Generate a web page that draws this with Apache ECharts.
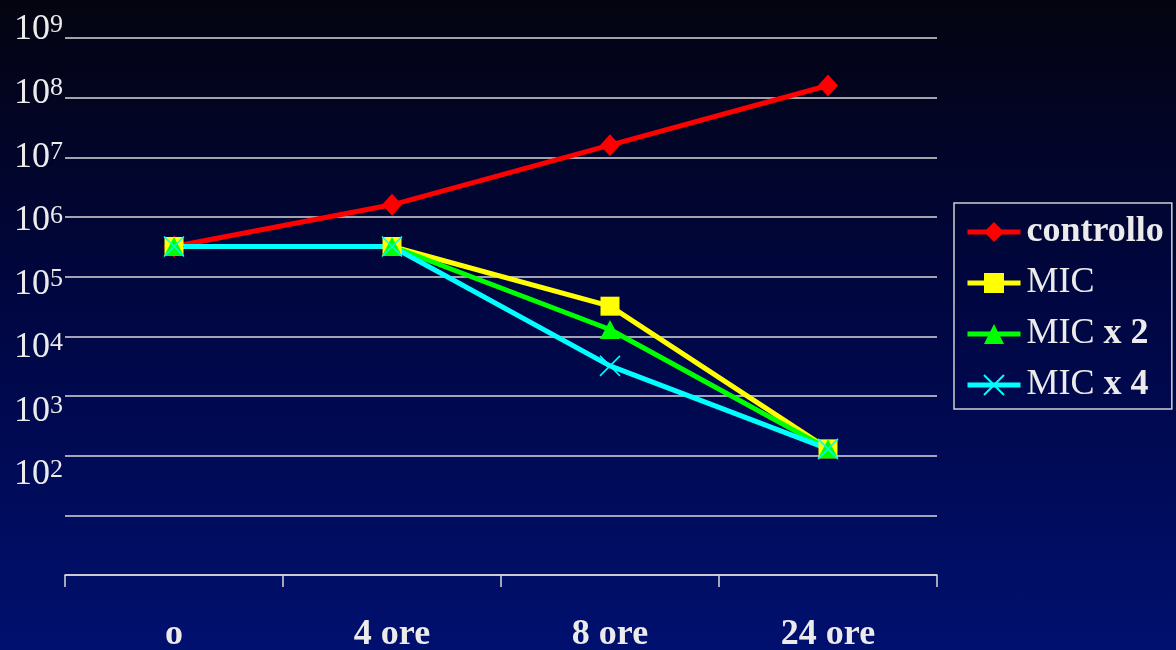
<!DOCTYPE html>
<html>
<head>
<meta charset="utf-8">
<script src="https://cdn.jsdelivr.net/npm/echarts@6/dist/echarts.min.js"></script>
<style>
html,body{margin:0;padding:0;}
#c{width:1176px;height:650px;background:linear-gradient(to bottom,#040410 0%,#000640 45%,#00106f 100%);}
</style>
</head>
<body>
<div id="c"></div>
<script>
const categories = ['o', '4 ore', '8 ore', '24 ore'];
const seriesNames = ['controllo', 'MIC', 'MIC x 2', 'MIC x 4'];
const controllo = [3.2e5, 1.6e6, 1.6e7, 1.6e8];
const mic = [3.2e5, 3.2e5, 3.2e4, 1.3e2];
const mic2 = [3.2e5, 3.2e5, 1.3e4, 1.3e2];
const mic4 = [3.2e5, 3.2e5, 3.2e3, 1.3e2];
const yLabelExpMin = 2;
const yLabelExpMax = 9;

const FONT = 'Liberation Serif';
const TXT = '#ebebeb';
const GRIDC = '#d8d8d8';

const chart = echarts.init(document.getElementById('c'), null, {renderer: 'canvas'});

function mk(name, data, color, symbol, size, extra) {
  return Object.assign({
    name: name,
    type: 'line',
    data: data,
    xAxisIndex: 0,
    yAxisIndex: 0,
    symbol: symbol,
    symbolSize: size,
    showAllSymbol: true,
    lineStyle: {color: color, width: 5},
    itemStyle: {color: color, borderWidth: 0},
    emphasis: {disabled: true},
    animation: false
  }, extra || {});
}

chart.setOption({
  backgroundColor: 'transparent',
  animation: false,
  grid: [
    {left: 65, right: 239, top: 38, bottom: 75, containLabel: false, outerBoundsMode: 'none'},
    {left: 65, right: 239, top: 30, bottom: 175, containLabel: false, outerBoundsMode: 'none'}
  ],
  legend: {
    orient: 'vertical',
    left: 954,
    top: 203,
    padding: [11, 8, 6, 11],
    itemGap: 15,
    itemWidth: 53,
    itemHeight: 25,
    lineStyle: {width: 5},
    borderColor: '#d0d0d0',
    borderWidth: 1.5,
    data: seriesNames,
    formatter: function (n) {
      if (n === 'controllo') return '{bd|controllo}';
      if (n === 'MIC') return '{rg|MIC}';
      const parts = n.split(' x ');
      return '{rg|' + parts[0] + '}{bd| x ' + parts[1] + '}';
    },
    textStyle: {
      color: TXT, fontFamily: FONT, fontSize: 36, padding: [0, 0, 0, 1],
      rich: {
        bd: {fontFamily: FONT, fontSize: 36, fontWeight: 'bold', color: TXT},
        rg: {fontFamily: FONT, fontSize: 36, fontWeight: 'normal', color: TXT}
      }
    }
  },
  xAxis: [
    {
      type: 'category',
      gridIndex: 0,
      data: categories,
      boundaryGap: true,
      axisLine: {show: true, lineStyle: {color: GRIDC, width: 1.5}},
      axisTick: {show: true, length: 12, lineStyle: {color: GRIDC, width: 1.5}},
      axisLabel: {color: TXT, fontFamily: FONT, fontSize: 36, fontWeight: 'bold', margin: 42},
      splitLine: {show: false}
    },
    {
      type: 'category',
      gridIndex: 1,
      data: categories,
      show: false
    }
  ],
  yAxis: [
    {
      type: 'log',
      gridIndex: 0,
      logBase: 10,
      min: 1,
      max: 1e9,
      interval: 1,
      axisLine: {show: false},
      axisTick: {show: false},
      axisLabel: {show: false},
      splitLine: {show: true, lineStyle: {color: GRIDC, width: 1.5}}
    },
    {
      type: 'value',
      gridIndex: 1,
      position: 'left',
      min: yLabelExpMin,
      max: yLabelExpMax,
      interval: 1,
      axisLine: {show: false},
      axisTick: {show: false},
      splitLine: {show: false},
      axisLabel: {
        show: true,
        margin: 2,
        formatter: function (v) { return '{b|10}{s|' + Math.round(v) + '}'; },
        rich: {
          b: {fontFamily: FONT, fontSize: 36, color: TXT, lineHeight: 36},
          s: {fontFamily: FONT, fontSize: 26, color: TXT, verticalAlign: 'top', lineHeight: 24}
        }
      }
    }
  ],
  series: [
    mk('controllo', controllo, '#ff0000', 'diamond', [20, 22]),
    mk('MIC', mic, '#ffff00', 'rect', 19),
    mk('MIC x 2', mic2, '#00ff00', 'triangle', [20, 19]),
    mk('MIC x 4', mic4, '#00ffff', 'path://M0,0L20,20M20,0L0,20', 20,
       {itemStyle: {color: '#00ffff', borderColor: '#00ffff', borderWidth: 1.5}})
  ]
});
</script>
</body>
</html>
